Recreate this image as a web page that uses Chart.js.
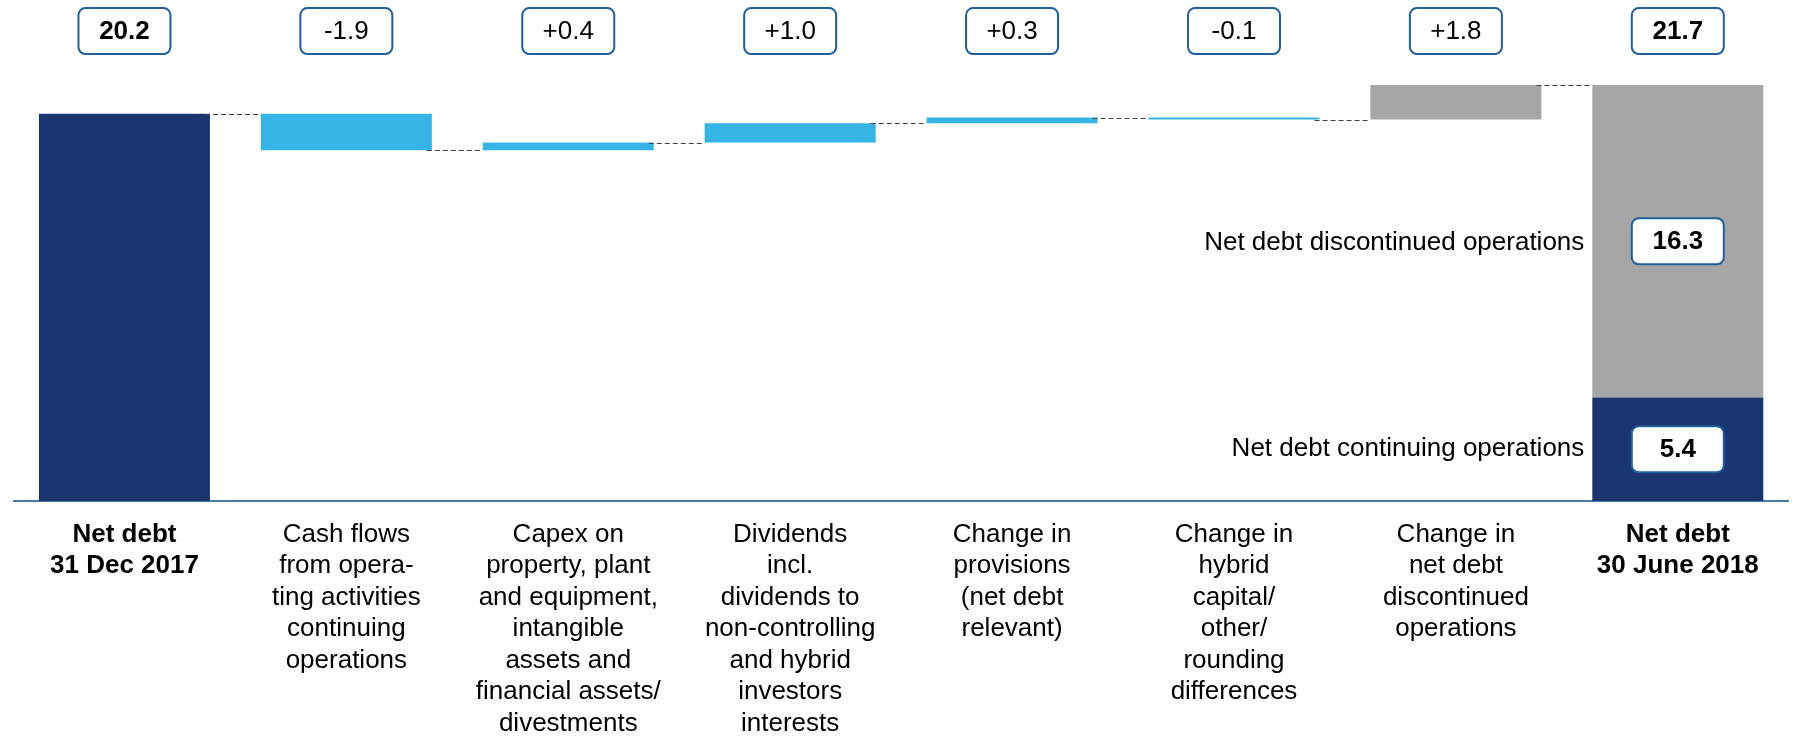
<!DOCTYPE html>
<html>
<head>
<meta charset="utf-8">
<script src="https://cdn.jsdelivr.net/npm/chart.js@4.4.1/dist/chart.umd.min.js"></script>
<style>
  html, body { margin: 0; padding: 0; background: #ffffff; }
  #wrap { width: 1795px; height: 741px; position: relative; }
</style>
</head>
<body>
<div id="wrap"><canvas id="c"></canvas></div>
<script>
// ---- data ----
const categories = [
  ['Net debt', '31 Dec 2017'],
  ['Cash flows', 'from opera-', 'ting activities', 'continuing', 'operations'],
  ['Capex on', 'property, plant', 'and equipment,', 'intangible', 'assets and', 'financial assets/', 'divestments'],
  ['Dividends', 'incl.', 'dividends to', 'non-controlling', 'and hybrid', 'investors', 'interests'],
  ['Change in', 'provisions', '(net debt', 'relevant)'],
  ['Change in', 'hybrid', 'capital/', 'other/', 'rounding', 'differences'],
  ['Change in', 'net debt', 'discontinued', 'operations'],
  ['Net debt', '30 June 2018']
];
const startNetDebt = 20.2;
const changes = [-1.9, 0.4, 1.0, 0.3, -0.1];          // continuing-ops movements (categories 1..5)
const discontinuedChange = 1.8;                          // category 6
const endContinuing = 5.4;
const endDiscontinued = 16.3;
const endTotal = 21.7;
const topLabels = ['20.2', '-1.9', '+0.4', '+1.0', '+0.3', '-0.1', '+1.8', '21.7'];
const segmentLabels = { continuing: '5.4', discontinued: '16.3' };
const segmentNames = { continuing: 'Net debt continuing operations', discontinued: 'Net debt discontinued operations' };

// ---- build waterfall ranges ----
const levels = [startNetDebt];
let run = startNetDebt;
const blueData = [null];
changes.forEach(d => {
  const next = Math.round((run + d) * 10) / 10;
  blueData.push([Math.min(run, next), Math.max(run, next)]);
  run = next;
  levels.push(run);
});
blueData.push(null, null);
const afterDisc = Math.round((run + discontinuedChange) * 10) / 10;
levels.push(afterDisc);
const navyData = [[0, startNetDebt], null, null, null, null, null, null, [0, endContinuing]];
const grayData = [null, null, null, null, null, null, [run, afterDisc], [endContinuing, endContinuing + endDiscontinued]];

const FONT = '"Liberation Sans", Arial, Helvetica, sans-serif';
const NAVY = '#1B3571', BLUE = '#35B5E5', GRAY = '#A6A6A6', BOXBORDER = '#1F5F9A', AXIS = '#4A7DAE';

function roundRect(ctx, x, y, w, h, r) {
  ctx.beginPath();
  ctx.moveTo(x + r, y);
  ctx.lineTo(x + w - r, y);
  ctx.arcTo(x + w, y, x + w, y + r, r);
  ctx.lineTo(x + w, y + h - r);
  ctx.arcTo(x + w, y + h, x + w - r, y + h, r);
  ctx.lineTo(x + r, y + h);
  ctx.arcTo(x, y + h, x, y + h - r, r);
  ctx.lineTo(x, y + r);
  ctx.arcTo(x, y, x + r, y, r);
  ctx.closePath();
}
function labelBox(ctx, cx, cy, text, bold) {
  const w = 92, h = 46;
  roundRect(ctx, cx - w / 2, cy - h / 2, w, h, 7);
  ctx.fillStyle = '#ffffff';
  ctx.fill();
  ctx.lineWidth = 2;
  ctx.strokeStyle = BOXBORDER;
  ctx.stroke();
  ctx.fillStyle = '#000000';
  ctx.font = (bold ? 'bold ' : '') + '26px ' + FONT;
  ctx.textAlign = 'center';
  ctx.textBaseline = 'middle';
  ctx.fillText(text, cx, cy + 1);
}

const annotations = {
  id: 'annotations',
  afterDatasetsDraw(chart) {
    const ctx = chart.ctx;
    const xs = chart.scales.x, ys = chart.scales.y;
    const navyMeta = chart.getDatasetMeta(0);
    const blueMeta = chart.getDatasetMeta(1);
    const grayMeta = chart.getDatasetMeta(2);
    const barAt = i => (navyData[i] ? navyMeta : (blueData[i] ? blueMeta : grayMeta)).data[i];
    ctx.save();
    // connectors
    ctx.setLineDash([5, 3]);
    ctx.lineWidth = 1;
    ctx.strokeStyle = '#404040';
    for (let i = 0; i < levels.length; i++) {
      const a = barAt(i), b = barAt(i + 1);
      const y = Math.round(ys.getPixelForValue(levels[i])) + 0.5;
      ctx.beginPath();
      ctx.moveTo(a.x + a.width / 2 - 5, y);
      ctx.lineTo(b.x - b.width / 2, y);
      ctx.stroke();
    }
    ctx.setLineDash([]);
    // top value boxes
    const boxY = chart.chartArea.top - 29;
    topLabels.forEach((t, i) => {
      labelBox(ctx, xs.getPixelForValue(i), boxY, t, i === 0 || i === topLabels.length - 1);
    });
    // segment boxes and names on final bar
    const last = categories.length - 1;
    const cx = xs.getPixelForValue(last);
    const nb = navyMeta.data[last];
    const yCont = (ys.getPixelForValue(0) + ys.getPixelForValue(endContinuing)) / 2;
    const yDisc = (ys.getPixelForValue(endContinuing) + ys.getPixelForValue(endContinuing + endDiscontinued)) / 2;
    labelBox(ctx, cx, yDisc, segmentLabels.discontinued, true);
    labelBox(ctx, cx, yCont, segmentLabels.continuing, true);
    ctx.font = '26px ' + FONT;
    ctx.fillStyle = '#000000';
    ctx.textAlign = 'right';
    ctx.textBaseline = 'middle';
    const tx = nb.x - nb.width / 2 - 8;
    ctx.fillText(segmentNames.discontinued, tx, yDisc + 2);
    ctx.fillText(segmentNames.continuing, tx, yCont);
    ctx.restore();
  }
};

const common = { barPercentage: 0.7706, categoryPercentage: 1.0, grouped: false, borderWidth: 0, skipNull: true };

new Chart(document.getElementById('c'), {
  type: 'bar',
  data: {
    labels: categories,
    datasets: [
      Object.assign({ label: 'Net debt', data: navyData, backgroundColor: NAVY }, common),
      Object.assign({ label: 'Change', data: blueData, backgroundColor: BLUE }, common),
      Object.assign({ label: 'Discontinued', data: grayData, backgroundColor: GRAY }, common)
    ]
  },
  options: {
    responsive: true,
    maintainAspectRatio: false,
    animation: false,
    layout: { padding: { left: 13.5, right: 6.25, top: 60.1, bottom: 0 } },
    plugins: { legend: { display: false }, tooltip: { enabled: false } },
    scales: {
      y: { display: false, min: 0, max: 23 },
      x: {
        offset: true,
        grid: { display: false, drawTicks: false },
        border: { display: true, color: AXIS, width: 2 },
        ticks: {
          autoSkip: false,
          maxRotation: 0,
          minRotation: 0,
          padding: 18,
          color: '#000000',
          font: (ctx) => ({
            family: FONT,
            size: 26,
            lineHeight: 1.21,
            weight: (ctx.index === 0 || ctx.index === categories.length - 1) ? 'bold' : 'normal'
          })
        },
        afterFit: (scale) => { scale.height = 240; }
      }
    }
  },
  plugins: [annotations]
});
</script>
</body>
</html>
